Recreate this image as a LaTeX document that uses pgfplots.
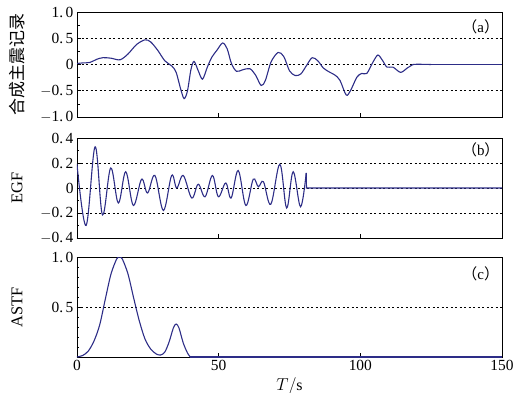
\documentclass[border=0pt]{standalone}
\usepackage{fontspec}
\setmainfont{Liberation Serif}
\newfontfamily\cjk{Noto Sans CJK SC}
\usepackage{pgfplots}
\pgfplotsset{compat=1.18}
\definecolor{curve}{RGB}{45,45,135}
\pgfplotsset{
  panel/.style={
    scale only axis, width=425bp,
    xmin=0, xmax=150, xtick={0,50,100,150},
    xtick pos=bottom, ytick pos=left, tick align=inside,
    major tick length=4bp, minor tick length=2.5bp,
    ymajorgrids, grid style={black, dash pattern=on 2bp off 2.5bp, line width=0.6pt},
    axis line style={black, line width=0.8pt},
    tick style={black, line width=0.6pt},
    tick label style={font=\fontsize{15.5}{17}\selectfont},
    every axis y label/.style={at={(rel axis cs:-0.141,0.5)}, anchor=center, rotate=90,
      font=\fontsize{16.5}{18}\selectfont},
  },
  ln/.style={curve, no marks, line width=1.1pt},
}
\begin{document}
\begin{tikzpicture}
\useasboundingbox (-77bp,12bp) rectangle (438bp,-381bp);
% (a)
\begin{axis}[panel, at={(0,0)}, anchor=north west, height=105bp,
  ymin=-1, ymax=1, ytick={-1,-0.5,0,0.5,1}, minor ytick={-0.75,-0.25,0.25,0.75},
  yticklabels={$-$1.\,0,$-$0.\,5,0,0.\,5,1.\,0}, xticklabels={},
  ylabel={\cjk\fontsize{17}{19}\selectfont 合成主震记录}]
\addplot[ln, smooth, tension=0.5] coordinates {
(0,0.02)(2,0.03)(4.6,0.04)(7,0.10)(9.2,0.13)(12,0.12)(15.2,0.09)(18,0.2)(21,0.38)(24,0.47)(26,0.43)(28.5,0.27)(31,0.07)(33.5,-0.03)(35,-0.15)(36.5,-0.45)(37.8,-0.65)(39,-0.5)(40.2,-0.1)(41.3,0.06)(42.8,-0.12)(44.3,-0.28)(46,-0.05)(47.6,0.14)(49.5,0.28)(51.4,0.41)(53,0.3)(54.5,0.02)(56.3,-0.13)(58.5,-0.10)(61,-0.08)(63,-0.2)(65,-0.40)(66.5,-0.30)(68.5,0.05)(71,0.23)(73,0.15)(75,-0.12)(77,-0.21)(79,-0.18)(81,-0.02)(83,0.13)(85,0.07)(87,-0.07)(89.3,-0.15)(91,-0.2)(92.8,-0.3)(95,-0.58)(96.5,-0.5)(98.8,-0.24)(100.5,-0.17)(102.3,-0.17)(104.5,0.05)(106.2,0.18)(107.8,0.08)(109.4,-0.05)(111.5,-0.05)(114.2,-0.15)(116.5,-0.07)(118.6,0)(120,0.005)(125,0)};
\addplot[ln] coordinates {(125,0)(150,0)};
\node at (rel axis cs:0.95,1) [yshift=-15bp, font=\fontsize{15}{17}\selectfont] {{\cjk （}a{\cjk ）}};
\end{axis}
% (b)
\begin{axis}[panel, at={(0,-126bp)}, anchor=north west, height=100bp,
  ymin=-0.4, ymax=0.4, ytick={-0.4,-0.2,0,0.2,0.4}, minor ytick={-0.3,-0.1,0.1,0.3},
  yticklabels={$-$0.\,4,$-$0.\,2,0,0.\,2,0.\,4}, xticklabels={},
  ylabel={EGF}]
\addplot[ln, smooth, tension=0.6] coordinates {
(0,0.19)(3.2,-0.30)(6.4,0.33)(9,-0.215)(11.9,0.16)(14.6,-0.12)(17.2,0.13)(19.9,-0.14)(22.8,0.07)(24.9,-0.04)(27.5,0.1)(30.5,-0.18)(33.4,0.1)(35.2,0.0)(37.5,0.1)(40.5,-0.08)(42.8,0.03)(45.2,-0.07)(47.8,0.1)(49.9,-0.07)(52.5,0.04)(54.4,-0.08)(56.9,0.14)(59.6,-0.14)(62.2,0.07)(64,0.01)(65.8,0.05)(68.4,-0.13)(71.6,0.19)(74,-0.16)(76.3,0.13)(78.9,-0.15)(80.9,0.12)};
\addplot[ln] coordinates {(80.9,0.12)(81.0,0)(150,0)};
\node at (rel axis cs:0.95,1) [yshift=-12bp, font=\fontsize{15}{17}\selectfont] {{\cjk （}b{\cjk ）}};
\end{axis}
% (c)
\begin{axis}[panel, at={(0,-245bp)}, anchor=north west, height=100bp,
  ymin=0, ymax=1, ytick={0,0.5,1}, minor ytick={0.1,0.2,0.3,0.4,0.6,0.7,0.8,0.9},
  yticklabels={,0.\,5,1.\,0}, xticklabels={0,50,100,150},
  ylabel={ASTF}, xlabel={$T/\mathrm{s}$},
  xlabel style={at={(axis cs:75,0)}, anchor=north, yshift=-17bp, font=\fontsize{16}{18}\selectfont}]
\addplot[ln, smooth, tension=0.5] coordinates {
(0,0)(2,0.015)(4,0.06)(6,0.16)(8,0.32)(10,0.58)(12,0.83)(14,0.98)(15,1.0)(16,0.98)(18,0.83)(20,0.59)(22,0.36)(24,0.18)(26,0.08)(28,0.03)(29.5,0.02)(31,0.05)(32.5,0.15)(34,0.29)(35,0.33)(36,0.29)(37.5,0.14)(39,0.04)(40,0.0)};
\addplot[ln] coordinates {(40,0)(150,0)};
\node at (rel axis cs:0.95,1) [yshift=-17bp, font=\fontsize{15}{17}\selectfont] {{\cjk （}c{\cjk ）}};
\end{axis}
\end{tikzpicture}
\end{document}
